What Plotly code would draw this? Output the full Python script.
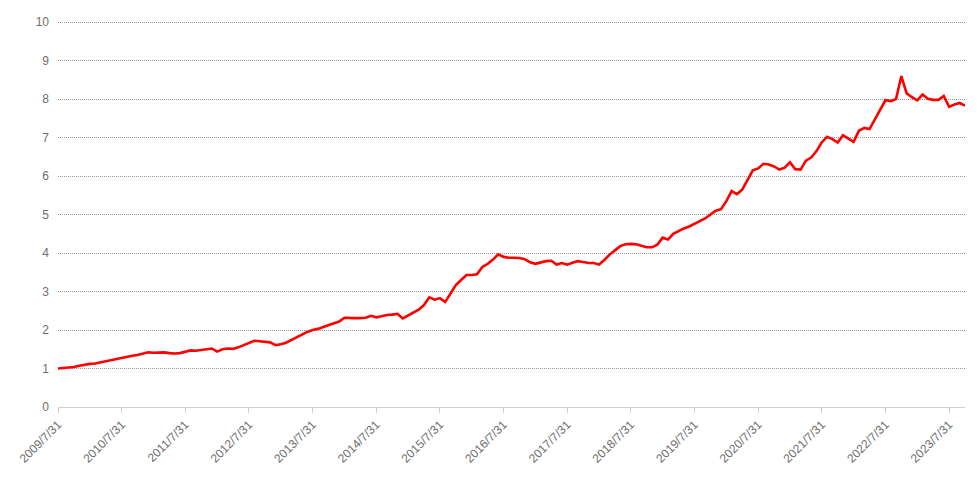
import pandas as pd
import plotly.graph_objects as go

# month-end dates, 2009/7/31 .. 2023/10/31
DATES = pd.date_range("2009-07-31", "2023-10-31", freq="ME")
DATE_LABELS = [f"{d.year}/{d.month}/{d.day}" for d in DATES]

VALUES = [
    1.00, 1.01, 1.03, 1.04, 1.07, 1.10, 1.12, 1.13, 1.16, 1.20, 1.23, 1.25,
    1.27, 1.31, 1.33, 1.35, 1.39, 1.42, 1.41, 1.42, 1.42, 1.40, 1.39, 1.40,
    1.44, 1.47, 1.46, 1.48, 1.50, 1.52, 1.44, 1.50, 1.52, 1.51, 1.55, 1.60,
    1.66, 1.72, 1.71, 1.70, 1.68, 1.61, 1.63, 1.67, 1.74, 1.83, 1.90, 1.95,
    2.00, 2.03, 2.08, 2.12, 2.17, 2.22, 2.32, 2.31, 2.31, 2.31, 2.32, 2.37,
    2.33, 2.36, 2.39, 2.40, 2.42, 2.30, 2.37, 2.45, 2.53, 2.65, 2.85, 2.79,
    2.83, 2.73, 2.95, 3.17, 3.30, 3.43, 3.43, 3.45, 3.64, 3.72, 3.83, 3.97,
    3.90, 3.88, 3.88, 3.87, 3.84, 3.76, 3.72, 3.76, 3.79, 3.80, 3.70, 3.74,
    3.70, 3.75, 3.79, 3.77, 3.74, 3.74, 3.70, 3.82, 3.96, 4.07, 4.18, 4.23,
    4.24, 4.23, 4.19, 4.15, 4.15, 4.22, 4.40, 4.35, 4.50, 4.58, 4.64, 4.69,
    4.75, 4.83, 4.90, 5.00, 5.10, 5.14, 5.35, 5.61, 5.53, 5.65, 5.92, 6.15,
    6.20, 6.32, 6.30, 6.25, 6.17, 6.22, 6.36, 6.18, 6.17, 6.40, 6.48, 6.65,
    6.88, 7.02, 6.96, 6.87, 7.06, 6.97, 6.89, 7.18, 7.25, 7.22, 7.48, 7.75,
    7.97, 7.95, 8.00, 8.60, 8.15, 8.05, 7.97, 8.12, 8.01, 7.98, 7.98, 8.08,
    7.80, 7.86, 7.90, 7.83,
]

TICK_LABELS = DATE_LABELS[::12]
Y_TICKS = list(range(0, 11))

fig = go.Figure()
fig.add_trace(go.Scatter(
    x=DATE_LABELS,
    y=VALUES,
    mode="lines",
    line=dict(color="#ff0000", width=2.6),
    hovertemplate="%{x}<br>%{y:.2f}<extra></extra>",
))

# page body has an 8px margin, so the figure is sized to fit inside it
fig.update_layout(
    width=962,
    height=464,
    margin=dict(l=50, r=5, t=13, b=65),
    plot_bgcolor="white",
    paper_bgcolor="white",
    showlegend=False,
    font=dict(family="Liberation Sans, Arial, sans-serif", size=12, color="#666"),
)
fig.update_xaxes(
    type="category",
    range=[0, len(DATE_LABELS) - 1],
    tickmode="array",
    tickvals=TICK_LABELS,
    ticktext=TICK_LABELS,
    tickangle=-45,
    tickfont=dict(size=12, color="#6e6e6e"),
    showgrid=False,
    showline=True,
    linecolor="#d0d0d0",
    linewidth=1,
    ticks="outside",
    ticklen=5,
    tickcolor="#d0d0d0",
    automargin=False,
)
fig.update_yaxes(
    range=[0, 10.03],
    tickvals=Y_TICKS,
    showgrid=True,
    gridcolor="#9a9a9a",
    griddash="1px,1px",
    gridwidth=1,
    zeroline=False,
    ticks="",
    ticklabelstandoff=8,
    tickfont=dict(size=12, color="#6e6e6e"),
    automargin=False,
)

fig.write_html("out.html")
